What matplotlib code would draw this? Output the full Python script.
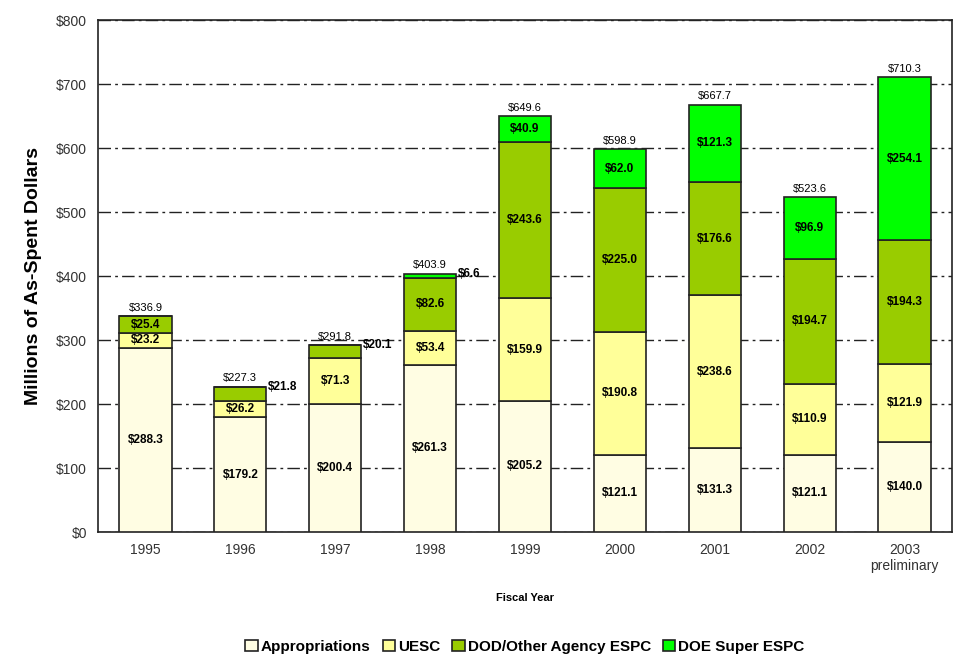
import matplotlib
matplotlib.use("Agg")
import matplotlib.pyplot as plt
import numpy as np

plt.rcParams["font.family"] = ["Liberation Sans", "DejaVu Sans"]

years = ["1995", "1996", "1997", "1998", "1999", "2000", "2001", "2002", "2003\npreliminary"]
appropriations = [288.3, 179.2, 200.4, 261.3, 205.2, 121.1, 131.3, 121.1, 140.0]
uesc = [23.2, 26.2, 71.3, 53.4, 159.9, 190.8, 238.6, 110.9, 121.9]
dod_espc = [25.4, 21.8, 20.1, 82.6, 243.6, 225.0, 176.6, 194.7, 194.3]
doe_espc = [0.0, 0.0, 0.0, 6.6, 40.9, 62.0, 121.3, 96.9, 254.1]
totals = [336.9, 227.3, 291.8, 403.9, 649.6, 598.9, 667.7, 523.6, 710.3]

series = [
    ("Appropriations", appropriations, "#FFFDE3"),
    ("UESC", uesc, "#FFFF99"),
    ("DOD/Other Agency ESPC", dod_espc, "#99CC00"),
    ("DOE Super ESPC", doe_espc, "#00FF00"),
]

fig = plt.figure(figsize=(9.57, 6.54), dpi=100)
ax = fig.add_axes([0.1024, 0.1865, 0.8924, 0.7829])

x = np.arange(len(years))
width = 0.55
bottom = np.zeros(len(years))
for name, vals, color in series:
    vals = np.array(vals)
    ax.bar(x, vals, width, bottom=bottom, color=color, edgecolor="#222222",
           linewidth=1.2, label=name, zorder=3)
    for i, v in enumerate(vals):
        if v <= 0:
            continue
        mid = bottom[i] + v / 2
        if v < 22 and i != 0:
            # thin segments get their label beside the bar
            ax.text(x[i] + width / 2 + 0.02, bottom[i] + v, f"${v:.1f}", ha="left",
                    va="center", fontsize=8.5, fontweight="bold", zorder=4)
        else:
            ax.text(x[i], mid, f"${v:.1f}", ha="center", va="center",
                    fontsize=8.5, fontweight="bold", zorder=4)
    bottom += vals

for i, t in enumerate(totals):
    ax.text(x[i], bottom[i] + 5, f"${t:.1f}", ha="center", va="bottom", fontsize=8, zorder=4)

ax.set_xlim(-0.5, len(years) - 0.5)
ax.set_ylim(0, 800)
ax.set_yticks(range(0, 801, 100))
ax.set_yticklabels([f"${v}" for v in range(0, 801, 100)], fontsize=10, color="#333333")
ax.set_xticks(x)
ax.set_xticklabels(years, fontsize=10, color="#333333")
ax.tick_params(axis="both", length=0, pad=8)
ax.yaxis.grid(True, color="#222222", linestyle=(0, (9, 3, 2, 3)), linewidth=1.0, zorder=1)
ax.set_axisbelow(True)
for s in ax.spines.values():
    s.set_color("#222222")
    s.set_linewidth(1.2)

ax.set_ylabel("Millions of As-Spent Dollars", fontsize=14, fontweight="bold", labelpad=10)
ax.set_xlabel("Fiscal Year", fontsize=8, fontweight="bold", labelpad=14)

ax.legend(loc="lower center", bbox_to_anchor=(0.5, -0.265), ncol=4, frameon=False,
          prop={"weight": "bold", "size": 11}, handlelength=0.8,
          handleheight=0.8, handletextpad=0.2, columnspacing=0.8)

fig.savefig("out.png", dpi=100)
